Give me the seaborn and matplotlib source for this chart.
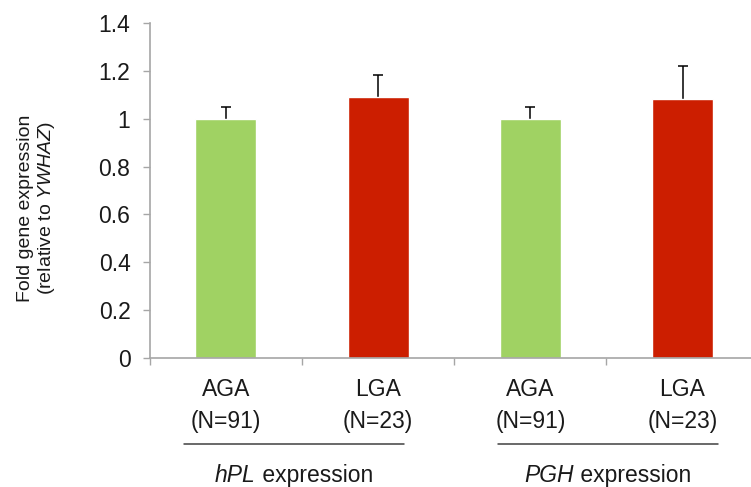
import matplotlib

matplotlib.use("Agg")
import matplotlib.pyplot as plt
import matplotlib.transforms as mtransforms
import pandas as pd
import seaborn as sns
from matplotlib.ticker import FixedLocator

OUTPUT_PATH = "out.png"

GENES = ["hPL", "hPL", "PGH", "PGH"]
SIZE_CLASSES = ["AGA", "LGA", "AGA", "LGA"]
SAMPLE_SIZES = [91, 23, 91, 23]
FOLD_CHANGE = [1.00, 1.09, 1.00, 1.08]
ERROR_UP = [0.05, 0.09, 0.05, 0.14]
Y_TICKS = [0, 0.2, 0.4, 0.6, 0.8, 1.0, 1.2, 1.4]
GROUP_NAMES = ["hPL", "PGH"]

PALETTE = {"AGA": "#a0d263", "LGA": "#cc1e00"}
AXIS_GRAY = "#a6a6a6"
TEXT_COLOR = "#1a1a1a"
DPI = 100


def build_frame() -> pd.DataFrame:
    return pd.DataFrame(
        {
            "bar": [f"{g} {c}" for g, c in zip(GENES, SIZE_CLASSES)],
            "size_class": SIZE_CLASSES,
            "fold": FOLD_CHANGE,
        }
    )


def add_group_label(fig, ax, trans, x, y, gene):
    # italic gene name followed by upright " expression", centred as one piece
    renderer = fig.canvas.get_renderer()
    italic = ax.annotate(gene, xy=(x, y), xycoords=trans, textcoords="offset points",
                         xytext=(0, 0), ha="left", va="center", fontsize=16.5,
                         fontstyle="italic", color=TEXT_COLOR, annotation_clip=False)
    plain = ax.annotate(" expression", xy=(1, 0), xycoords=italic, ha="left",
                        va="bottom", fontsize=16.5, color=TEXT_COLOR,
                        annotation_clip=False)
    w1 = italic.get_window_extent(renderer).width
    w2 = plain.get_window_extent(renderer).width
    italic.set_position((-(w1 + w2) / 2 * 72 / DPI, 0))


def plot(df: pd.DataFrame) -> None:
    sns.set_theme(style="white")
    plt.rcParams["font.family"] = ["Liberation Sans", "DejaVu Sans"]
    plt.rcParams["mathtext.fontset"] = "custom"
    plt.rcParams["mathtext.rm"] = "Liberation Sans"
    plt.rcParams["mathtext.it"] = "Liberation Sans:italic"

    fig = plt.figure(figsize=(7.51, 4.87), dpi=DPI)
    ax = fig.add_axes([0.1995, 0.2643, 0.8005, 0.6891])

    # error bars sit behind the bars so only the upper half shows
    ax.errorbar(
        x=range(len(df)),
        y=df["fold"],
        yerr=ERROR_UP,
        fmt="none",
        ecolor="black",
        elinewidth=1.1,
        capsize=3.3,
        capthick=1.1,
        zorder=0.5,
    )
    sns.barplot(
        data=df,
        x="bar",
        y="fold",
        hue="size_class",
        palette=PALETTE,
        order=list(df["bar"]),
        dodge=False,
        width=0.4,
        saturation=1,
        errorbar=None,
        legend=False,
        ax=ax,
    )

    ax.set_xlim(-0.5, 3.45)
    ax.set_ylim(0, 1.4)
    ax.set_yticks(Y_TICKS)
    ax.set_yticklabels([f"{v:g}" for v in Y_TICKS], fontsize=16.5, color=TEXT_COLOR)
    ax.set_xticks(range(len(df)))
    ax.set_xticklabels(
        [f"{c}\n(N={n})" for c, n in zip(SIZE_CLASSES, SAMPLE_SIZES)],
        fontsize=16.5,
        color=TEXT_COLOR,
    )
    for lbl in ax.get_xticklabels():
        lbl.set_linespacing(1.5)
    ax.set_xlabel("")
    ax.set_ylabel("")

    ax.xaxis.set_minor_locator(FixedLocator([-0.5, 0.5, 1.5, 2.5]))
    ax.tick_params(axis="x", which="major", bottom=True, length=0, pad=14)
    ax.tick_params(axis="x", which="minor", bottom=True, length=5, width=1,
                   color=AXIS_GRAY, direction="out")
    ax.tick_params(axis="y", which="major", left=True, length=5, width=1,
                   color=AXIS_GRAY, direction="out", pad=9)

    for side in ["top", "right"]:
        ax.spines[side].set_visible(False)
    for side in ["left", "bottom"]:
        ax.spines[side].set_color(AXIS_GRAY)
        ax.spines[side].set_linewidth(1.2)

    ax.text(
        -0.1876,
        0.448,
        "Fold gene expression\n(relative to $\\mathit{YWHAZ}$)",
        transform=ax.transAxes,
        rotation=90,
        ha="center",
        va="center",
        fontsize=14,
        linespacing=1.1,
        color=TEXT_COLOR,
    )

    trans = mtransforms.blended_transform_factory(ax.transData, ax.transAxes)
    spans = [(-0.276, 1.169), (1.786, 3.230)]
    for (x0, x1), gene in zip(spans, GROUP_NAMES):
        ax.plot([x0, x1], [-0.255, -0.255], transform=trans, color="#404040",
                linewidth=1.1, clip_on=False)
        add_group_label(fig, ax, trans, (x0 + x1) / 2, -0.348, gene)

    fig.savefig(OUTPUT_PATH, dpi=DPI)
    plt.close(fig)


def main() -> None:
    plot(build_frame())


if __name__ == "__main__":
    main()
